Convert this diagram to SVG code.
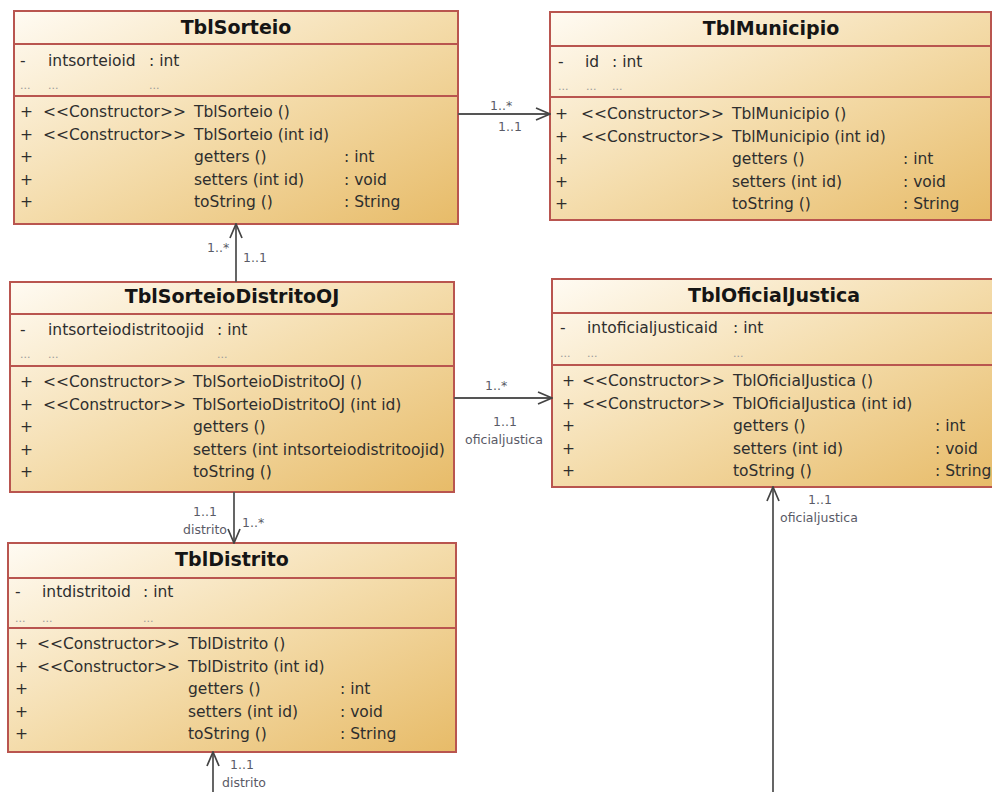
<svg xmlns="http://www.w3.org/2000/svg" width="992" height="792" viewBox="0 0 992 792">
<defs>
<linearGradient id="g" x1="0" y1="0" x2="1" y2="1">
<stop offset="0" stop-color="#fffbf3"/>
<stop offset="0.5" stop-color="#f4dcab"/>
<stop offset="1" stop-color="#e7bb68"/>
</linearGradient>
<marker id="arr" markerUnits="userSpaceOnUse" viewBox="0 0 16 14" refX="15" refY="7" markerWidth="16" markerHeight="14" orient="auto">
<path d="M1,1 L15,7 L1,13" fill="none" stroke="#444" stroke-width="1.7"/>
</marker>
<style>
.box{fill:url(#g);stroke:#b9554f;stroke-width:2}
.sep{stroke:#b9554f;stroke-width:2}
.h{font-family:"DejaVu Sans",sans-serif;font-weight:bold;font-size:19px;fill:#151515;text-anchor:middle}
.t{font-family:"DejaVu Sans",sans-serif;font-size:15.5px;fill:#2e2e2e}
.d{font-family:"DejaVu Sans",sans-serif;font-size:11px;fill:#999}
.lbl{font-family:"DejaVu Sans",sans-serif;font-size:12.5px;fill:#5a5a66}
.conn{stroke:#555;stroke-width:1.8;fill:none}
</style>
</defs>
<rect width="992" height="792" fill="#ffffff"/>

<g id="TblSorteio">
<rect class="box" x="14" y="11" width="444" height="213"/>
<line class="sep" x1="14" y1="44" x2="458" y2="44"/>
<line class="sep" x1="14" y1="96" x2="458" y2="96"/>
<text class="h" x="236" y="34">TblSorteio</text>
<text class="t" x="20" y="66">-</text><text class="t" x="48" y="66">intsorteioid</text><text class="t" x="149" y="66">: int</text>
<text class="d" x="20" y="89">...</text><text class="d" x="48" y="89">...</text><text class="d" x="149" y="89">...</text>
<text class="t" x="20" y="117">+</text><text class="t" x="43" y="117">&lt;&lt;Constructor&gt;&gt;</text><text class="t" x="194" y="117">TblSorteio ()</text>
<text class="t" x="20" y="139.5">+</text><text class="t" x="43" y="139.5">&lt;&lt;Constructor&gt;&gt;</text><text class="t" x="194" y="139.5">TblSorteio (int id)</text>
<text class="t" x="20" y="162">+</text><text class="t" x="194" y="162">getters ()</text><text class="t" x="344" y="162">: int</text>
<text class="t" x="20" y="184.5">+</text><text class="t" x="194" y="184.5">setters (int id)</text><text class="t" x="344" y="184.5">: void</text>
<text class="t" x="20" y="207">+</text><text class="t" x="194" y="207">toString ()</text><text class="t" x="344" y="207">: String</text>
</g>

<g id="TblMunicipio">
<rect class="box" x="550" y="12" width="441" height="208"/>
<line class="sep" x1="550" y1="46" x2="991" y2="46"/>
<line class="sep" x1="550" y1="97" x2="991" y2="97"/>
<text class="h" x="771" y="35">TblMunicipio</text>
<text class="t" x="558" y="67">-</text><text class="t" x="585" y="67">id</text><text class="t" x="612" y="67">: int</text>
<text class="d" x="558" y="90">...</text><text class="d" x="586" y="90">...</text><text class="d" x="612" y="90">...</text>
<text class="t" x="555" y="119">+</text><text class="t" x="581" y="119">&lt;&lt;Constructor&gt;&gt;</text><text class="t" x="732" y="119">TblMunicipio ()</text>
<text class="t" x="555" y="141.5">+</text><text class="t" x="581" y="141.5">&lt;&lt;Constructor&gt;&gt;</text><text class="t" x="732" y="141.5">TblMunicipio (int id)</text>
<text class="t" x="555" y="164">+</text><text class="t" x="732" y="164">getters ()</text><text class="t" x="903" y="164">: int</text>
<text class="t" x="555" y="186.5">+</text><text class="t" x="732" y="186.5">setters (int id)</text><text class="t" x="903" y="186.5">: void</text>
<text class="t" x="555" y="209">+</text><text class="t" x="732" y="209">toString ()</text><text class="t" x="903" y="209">: String</text>
</g>

<g id="TblSorteioDistritoOJ">
<rect class="box" x="10" y="282" width="444" height="210"/>
<line class="sep" x1="10" y1="314" x2="454" y2="314"/>
<line class="sep" x1="10" y1="366" x2="454" y2="366"/>
<text class="h" x="232" y="303">TblSorteioDistritoOJ</text>
<text class="t" x="20" y="335">-</text><text class="t" x="48" y="335">intsorteiodistritoojid</text><text class="t" x="217" y="335">: int</text>
<text class="d" x="20" y="358">...</text><text class="d" x="48" y="358">...</text><text class="d" x="217" y="358">...</text>
<text class="t" x="20" y="387">+</text><text class="t" x="43" y="387">&lt;&lt;Constructor&gt;&gt;</text><text class="t" x="193" y="387">TblSorteioDistritoOJ ()</text>
<text class="t" x="20" y="409.5">+</text><text class="t" x="43" y="409.5">&lt;&lt;Constructor&gt;&gt;</text><text class="t" x="193" y="409.5">TblSorteioDistritoOJ (int id)</text>
<text class="t" x="20" y="432">+</text><text class="t" x="193" y="432">getters ()</text>
<text class="t" x="20" y="454.5">+</text><text class="t" x="193" y="454.5">setters (int intsorteiodistritoojid)</text>
<text class="t" x="20" y="477">+</text><text class="t" x="193" y="477">toString ()</text>
</g>

<g id="TblOficialJustica">
<rect class="box" x="552" y="279" width="445" height="208"/>
<line class="sep" x1="552" y1="313" x2="997" y2="313"/>
<line class="sep" x1="552" y1="365" x2="997" y2="365"/>
<text class="h" x="774" y="302">TblOficialJustica</text>
<text class="t" x="560" y="333">-</text><text class="t" x="587" y="333">intoficialjusticaid</text><text class="t" x="733" y="333">: int</text>
<text class="d" x="560" y="357">...</text><text class="d" x="587" y="357">...</text><text class="d" x="733" y="357">...</text>
<text class="t" x="562" y="386">+</text><text class="t" x="582" y="386">&lt;&lt;Constructor&gt;&gt;</text><text class="t" x="733" y="386">TblOficialJustica ()</text>
<text class="t" x="562" y="408.5">+</text><text class="t" x="582" y="408.5">&lt;&lt;Constructor&gt;&gt;</text><text class="t" x="733" y="408.5">TblOficialJustica (int id)</text>
<text class="t" x="562" y="431">+</text><text class="t" x="733" y="431">getters ()</text><text class="t" x="935" y="431">: int</text>
<text class="t" x="562" y="453.5">+</text><text class="t" x="733" y="453.5">setters (int id)</text><text class="t" x="935" y="453.5">: void</text>
<text class="t" x="562" y="476">+</text><text class="t" x="733" y="476">toString ()</text><text class="t" x="935" y="476">: String</text>
</g>

<g id="TblDistrito">
<rect class="box" x="8" y="543" width="448" height="209"/>
<line class="sep" x1="8" y1="578" x2="456" y2="578"/>
<line class="sep" x1="8" y1="628" x2="456" y2="628"/>
<text class="h" x="232" y="566">TblDistrito</text>
<text class="t" x="15" y="597">-</text><text class="t" x="42" y="597">intdistritoid</text><text class="t" x="143" y="597">: int</text>
<text class="d" x="15" y="622">...</text><text class="d" x="42" y="622">...</text><text class="d" x="143" y="622">...</text>
<text class="t" x="15" y="649">+</text><text class="t" x="37" y="649">&lt;&lt;Constructor&gt;&gt;</text><text class="t" x="188" y="649">TblDistrito ()</text>
<text class="t" x="15" y="671.5">+</text><text class="t" x="37" y="671.5">&lt;&lt;Constructor&gt;&gt;</text><text class="t" x="188" y="671.5">TblDistrito (int id)</text>
<text class="t" x="15" y="694">+</text><text class="t" x="188" y="694">getters ()</text><text class="t" x="340" y="694">: int</text>
<text class="t" x="15" y="716.5">+</text><text class="t" x="188" y="716.5">setters (int id)</text><text class="t" x="340" y="716.5">: void</text>
<text class="t" x="15" y="739">+</text><text class="t" x="188" y="739">toString ()</text><text class="t" x="340" y="739">: String</text>
</g>

<g id="connectors">
<path class="conn" d="M458,114 L550,114" marker-end="url(#arr)"/>
<text class="lbl" x="490" y="110">1..*</text>
<text class="lbl" x="498" y="131">1..1</text>

<path class="conn" d="M236,282 L236,224" marker-end="url(#arr)"/>
<text class="lbl" x="207" y="252">1..*</text>
<text class="lbl" x="243" y="262">1..1</text>

<path class="conn" d="M454,398 L552,398" marker-end="url(#arr)"/>
<text class="lbl" x="485" y="390">1..*</text>
<text class="lbl" x="493" y="426">1..1</text>
<text class="lbl" x="465" y="444">oficialjustica</text>

<path class="conn" d="M234,492 L234,543" marker-end="url(#arr)"/>
<text class="lbl" x="193" y="516">1..1</text>
<text class="lbl" x="183" y="534">distrito</text>
<text class="lbl" x="242" y="527">1..*</text>

<path class="conn" d="M213,800 L213,752" marker-end="url(#arr)"/>
<text class="lbl" x="230" y="769">1..1</text>
<text class="lbl" x="222" y="787">distrito</text>

<path class="conn" d="M773,800 L773,487" marker-end="url(#arr)"/>
<text class="lbl" x="808" y="504">1..1</text>
<text class="lbl" x="780" y="522">oficialjustica</text>
</g>
</svg>
